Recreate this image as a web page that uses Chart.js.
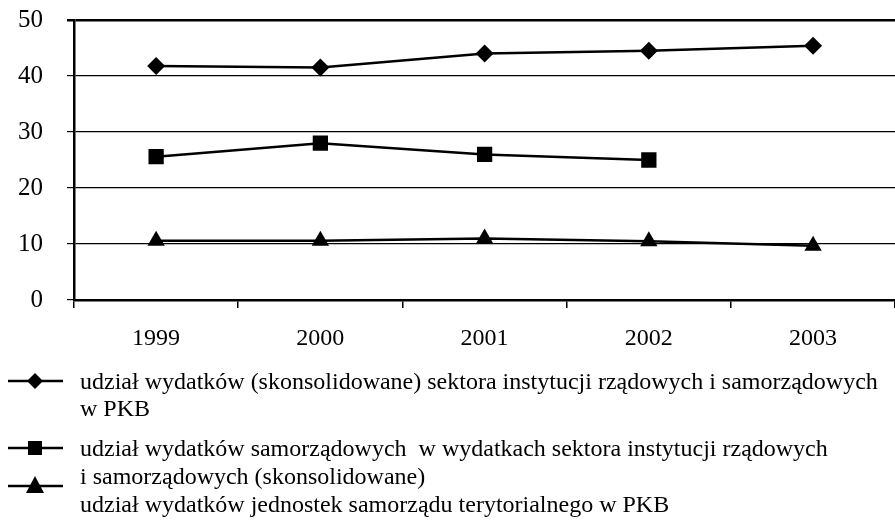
<!DOCTYPE html>
<html>
<head>
<meta charset="utf-8">
<script src="https://cdn.jsdelivr.net/npm/chart.js@4/dist/chart.umd.min.js"></script>
<style>
    body { margin: 0; background: #fff; overflow: hidden; }
    #wrap { position: absolute; left: 0; top: 0; width: 906px; height: 360px; }
    #legend { position: absolute; left: 0; top: 0; width: 895px; height: 532px; pointer-events: none;
              font-family: 'Liberation Serif', 'Times New Roman', serif; font-size: 24px; color: #000; }
    .txt { position: absolute; left: 80px; white-space: nowrap; line-height: 28px; }
    .ico { position: absolute; left: 0; }
</style>
</head>
<body>
<div id="wrap"><canvas id="lineChart"></canvas></div>
<div id="legend"></div>
<script>
var years = ['1999', '2000', '2001', '2002', '2003']
var yTicks = [0, 10, 20, 30, 40, 50]

var udzialPKB        = [41.8, 41.5, 44.0, 44.5, 45.4]
var udzialSamorzad   = [25.6, 28.0, 26.0, 25.0, null]
var udzialJST        = [10.6, 10.6, 11.0, 10.5, 9.7]

var legendLines = [
    ['udział wydatków (skonsolidowane) sektora instytucji rządowych i samorządowych', 'w PKB'],
    ['udział wydatków samorządowych  w wydatkach sektora instytucji rządowych', 'i samorządowych (skonsolidowane)'],
    ['udział wydatków jednostek samorządu terytorialnego w PKB']
]

var serif = "'Liberation Serif', 'Times New Roman', serif"

function series(label, data, style, radius) {
    return {
        label           : label,
        data            : data,
        borderColor     : '#000',
        backgroundColor : '#000',
        borderWidth     : 2.5,
        pointStyle      : style,
        pointRadius     : radius,
        pointBorderWidth: 0,
        tension         : 0,
        spanGaps        : false
    }
}

var ctx = document.getElementById('lineChart').getContext('2d')
new Chart(ctx, {
    type: 'line',
    data: {
        labels  : years,
        datasets: [
            series(legendLines[0].join(' '), udzialPKB, 'rectRot', 9),
            series(legendLines[1].join(' '), udzialSamorzad, 'rect', 10.8),
            series(legendLines[2].join(' '), udzialJST, 'triangle', 10)
        ]
    },
    options: {
        responsive         : true,
        maintainAspectRatio: false,
        animation          : false,
        layout             : { padding: 0 },
        plugins            : { legend: { display: false }, tooltip: { enabled: false } },
        scales: {
            x: {
                offset: true,
                grid  : { offset: true, drawOnChartArea: false, color: '#000', lineWidth: 1.5, tickLength: 8 },
                border: { color: '#000', width: 2.5 },
                ticks : { color: '#000', padding: 16, font: { family: serif, size: 24 } },
                afterFit: function(scale) { scale.height = 60 }
            },
            y: {
                min   : 0,
                max   : 50,
                afterBuildTicks: function(scale) { scale.ticks = yTicks.map(function(v) { return { value: v } }) },
                grid  : {
                    color    : '#000',
                    lineWidth: function(c) { return c.tick && c.tick.value === 50 ? 2.5 : 1.2 },
                    tickLength: 7
                },
                border: { color: '#000', width: 2.5 },
                ticks : { color: '#000', padding: 24, font: { family: serif, size: 25 } },
                afterFit: function(scale) {
                    scale.width = 74
                    scale.paddingTop = 20
                    scale.paddingBottom = 0
                }
            }
        }
    }
})

// legend built as html below the plot
var rowTops = [[367, 394], [434, 462], [490]]
var iconY = [381, 448, 486]
var styles = ['diamond', 'square', 'triangle']
var legend = document.getElementById('legend')
var html = ''
legendLines.forEach(function(lines, i) {
    lines.forEach(function(t, j) {
        html += '<div class="txt" style="top:' + rowTops[i][j] + 'px">' + t.replace(/  /g, ' &nbsp;') + '</div>'
    })
    var y = iconY[i]
    var mark = ''
    if (styles[i] === 'diamond') mark = '<polygon points="35,' + (y - 8) + ' 43,' + y + ' 35,' + (y + 8) + ' 27,' + y + '"/>'
    if (styles[i] === 'square') mark = '<rect x="28" y="' + (y - 7) + '" width="14" height="14"/>'
    if (styles[i] === 'triangle') mark = '<polygon points="35,' + (y - 10) + ' 44,' + (y + 7) + ' 26,' + (y + 7) + '"/>'
    html += '<svg class="ico" width="100" height="532" style="top:0">' +
        '<line x1="8" x2="63" y1="' + y + '" y2="' + y + '" stroke="#000" stroke-width="2.5"/>' + mark + '</svg>'
})
legend.innerHTML = html
</script>
</body>
</html>
